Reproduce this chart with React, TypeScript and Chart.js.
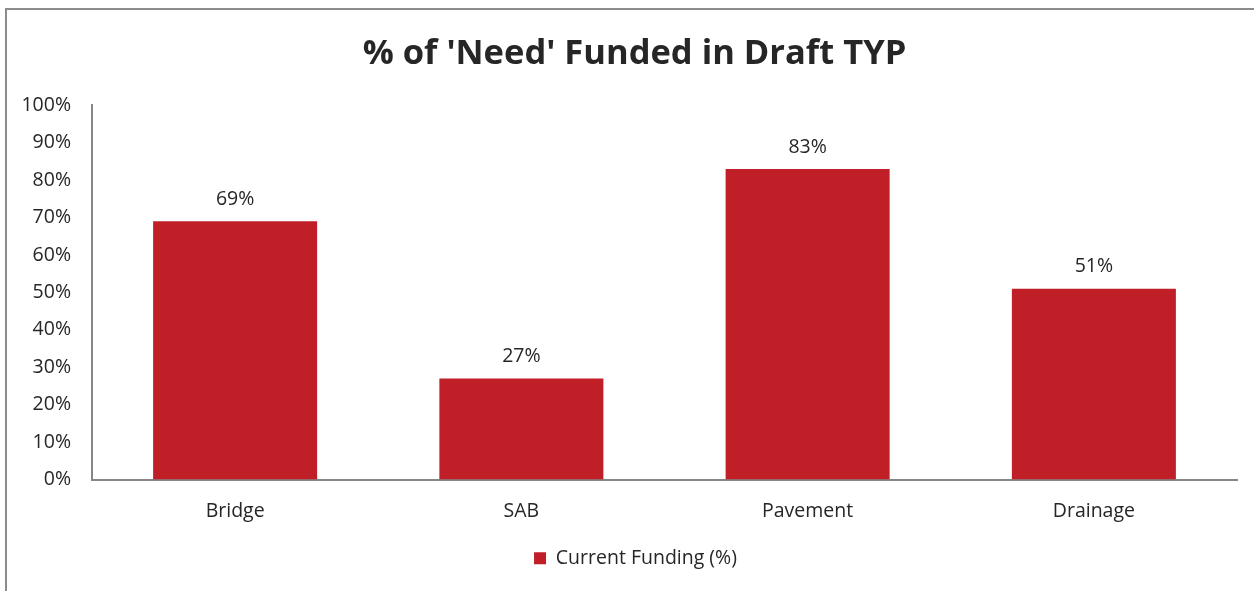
import React, { useEffect, useRef } from "react";
import { Chart, registerables } from "chart.js";

Chart.register(...registerables);

const categories = ["Bridge", "SAB", "Pavement", "Drainage"];
const currentFunding = [69, 27, 83, 51];
const seriesName = "Current Funding (%)";
const chartTitle = "% of 'Need' Funded in Draft TYP";

const FONT = "'Open Sans', sans-serif";
const BAR = "#C01F27";
const TEXT = "#262626";
const FS = 19.5;

const dataLabels = {
  id: "dataLabels",
  afterDatasetsDraw(chart: any) {
    const ctx = chart.ctx;
    ctx.save();
    ctx.font = `${FS}px ${FONT}`;
    ctx.fillStyle = TEXT;
    ctx.textAlign = "center";
    ctx.textBaseline = "middle";
    chart.data.datasets.forEach((ds: any, i: number) => {
      const meta = chart.getDatasetMeta(i);
      meta.data.forEach((el: any, j: number) => {
        ctx.fillText(`${ds.data[j]}%`, el.x, el.y - 22);
      });
    });
    ctx.restore();
  },
};

// centre title and legend on the whole frame rather than the plot box
const centreBoxes = {
  id: "centreBoxes",
  afterLayout(chart: any) {
    const w = chart.width;
    [chart.titleBlock, chart.legend].forEach((b: any, k: number) => {
      if (!b) return;
      const shift = k === 0 ? 16 : 19;
      const bw = b.right - b.left;
      b.left = Math.min(b.left + shift, w - bw);
      b.right = b.left + bw;
    });
  },
};

export default function App() {
  const ref = useRef<HTMLCanvasElement | null>(null);
  useEffect(() => {
    if (!ref.current) return;
    const chart = new Chart(ref.current, {
      type: "bar",
      data: {
        labels: categories,
        datasets: [
          {
            label: seriesName,
            data: currentFunding,
            backgroundColor: BAR,
            borderWidth: 0,
            barPercentage: 0.573,
            categoryPercentage: 1,
          },
        ],
      },
      options: {
        animation: false,
        responsive: false,
        maintainAspectRatio: false,
        layout: { padding: { left: 0, right: 17, top: 0, bottom: 13 } },
        plugins: {
          tooltip: { enabled: false },
          title: {
            display: true,
            text: chartTitle,
            color: TEXT,
            font: { family: FONT, size: 34.5, weight: "bold", lineHeight: 1.2 },
            padding: { top: 33, bottom: 31 },
          },
          legend: {
            display: true,
            position: "bottom",
            labels: {
              color: TEXT,
              font: { family: FONT, size: FS },
              boxWidth: 12,
              boxHeight: 12,
              padding: 6,
            },
          },
        },
        scales: {
          x: {
            grid: { display: false, drawTicks: false },
            border: { display: true, color: "#868686", width: 2 },
            ticks: { color: TEXT, font: { family: FONT, size: FS }, padding: 20 },
            afterFit: (s: any) => {
              s.height = 63;
            },
          },
          y: {
            min: 0,
            max: 100,
            grid: { display: false, drawTicks: false },
            border: { display: true, color: "#868686", width: 2 },
            ticks: {
              stepSize: 10,
              color: TEXT,
              font: { family: FONT, size: FS },
              padding: 21,
              callback: (v: any) => `${v}%`,
            },
            afterFit: (s: any) => {
              s.width = 92;
            },
          },
        },
      },
      plugins: [dataLabels, centreBoxes],
    });
    return () => chart.destroy();
  }, []);
  return (
    <div
      style={{
        position: "fixed",
        left: 0,
        top: 0,
        width: 1254,
        height: 591,
        overflow: "hidden",
        background: "#fff",
      }}
    >
      <div
        style={{
          position: "absolute",
          left: 5,
          top: 8,
          width: 1400,
          height: 800,
          border: "2px solid #8c8c8c",
        }}
      />
      <canvas
        ref={ref}
        width={1254}
        height={591}
        style={{ position: "absolute", left: 0, top: 0, width: 1254, height: 591 }}
      />
    </div>
  );
}
